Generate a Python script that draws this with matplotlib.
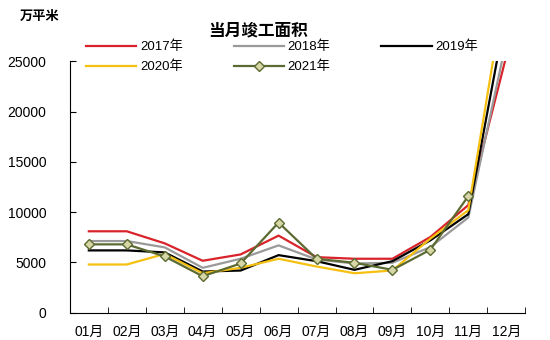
import numpy as np
import matplotlib.pyplot as plt

plt.rcParams['font.family'] = ['Liberation Sans', 'Noto Sans CJK SC']

months = ['01月', '02月', '03月', '04月', '05月', '06月',
          '07月', '08月', '09月', '10月', '11月', '12月']
y2017 = [8100, 8100, 6900, 5170, 5800, 7670, 5530, 5370, 5370, 7530, 10700, 25500]
y2018 = [7130, 7130, 6500, 4470, 5370, 6700, 5300, 4900, 4970, 6530, 9470, 27000]
y2019 = [6200, 6200, 6000, 4100, 4200, 5730, 5130, 4270, 5130, 7200, 9800, 30000]
y2020 = [4800, 4800, 5850, 3930, 4470, 5370, 4600, 3930, 4200, 7370, 10200, 33000]
y2021 = [6800, 6800, 5600, 3630, 4900, 8970, 5370, 4970, 4270, 6270, 11600]

fig = plt.figure(figsize=(5.5, 3.4), dpi=100)
ax = fig.add_axes([0.127, 0.08, 0.828, 0.74])

x = np.arange(len(months))
l17, = ax.plot(x, y2017, color='#d9232a', lw=1.6, label='2017年')
l18, = ax.plot(x, y2018, color='#9a9a9a', lw=1.6, label='2018年')
l19, = ax.plot(x, y2019, color='#000000', lw=1.6, label='2019年')
l20, = ax.plot(x, y2020, color='#f5c011', lw=1.6, label='2020年')
l21, = ax.plot(x[:len(y2021)], y2021, color='#5b6a30', lw=1.6, marker='D', ms=5,
               mfc='#d6d6a6', mec='#5b6a30', mew=1, label='2021年')

ax.set_xlim(-0.5, 11.5)
ax.set_ylim(0, 25000)
ax.set_yticks(range(0, 25001, 5000))
ax.set_xticks(x)
ax.set_xticklabels(months)
ax.set_xticks(np.arange(-0.5, 12, 1), minor=True)
ax.tick_params(axis='x', which='major', length=0, labelsize=10, pad=9)
ax.tick_params(axis='x', which='minor', direction='in', length=4)
ax.tick_params(axis='y', direction='in', length=4, labelsize=10, pad=17)
for s in ['top', 'right']:
    ax.spines[s].set_visible(False)

fig.text(0.469, 0.91, '当月竣工面积', ha='center', va='center', fontsize=12, fontweight='bold')
fig.text(0.036, 0.95, '万平米', ha='left', va='center', fontsize=9.5, fontweight='bold')

# row-wise order for 3 columns
hs = [l17, l20, l18, l21, l19]
ax.legend(hs, [h.get_label() for h in hs], ncol=3, loc='lower center',
          bbox_to_anchor=(0.513, 0.765), bbox_transform=fig.transFigure, frameon=False,
          fontsize=9.5, handlelength=3.8, columnspacing=3.85, handletextpad=0.3,
          labelspacing=0.55, borderpad=0)

fig.savefig('out.png', dpi=100)
